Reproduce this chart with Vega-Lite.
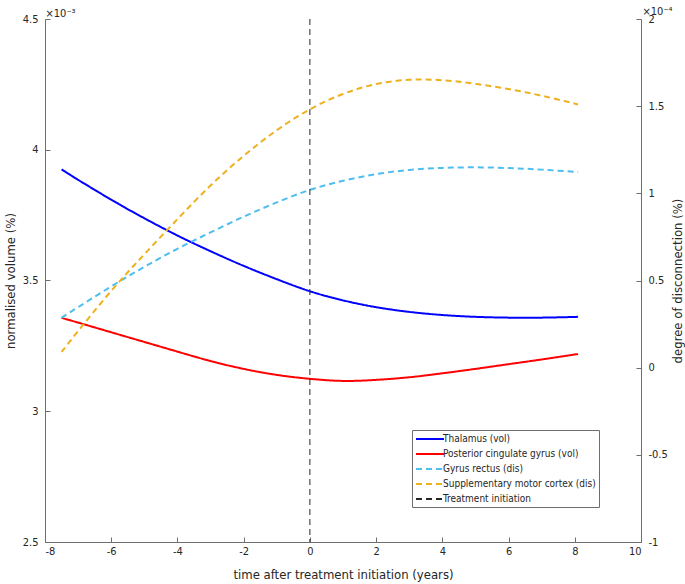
{
  "$schema": "https://vega.github.io/schema/vega-lite/v6.json",
  "width": 596,
  "height": 523,
  "autosize": {"type": "none"},
  "padding": {"left": 45, "top": 19, "right": 44, "bottom": 42},
  "background": "white",
  "config": {
    "view": {"stroke": null},
    "font": "Liberation Sans Narrow, DejaVu Sans Condensed, sans-serif",
    "axis": {
      "grid": false,
      "labelFont": "Liberation Sans Narrow, DejaVu Sans Condensed, sans-serif",
      "titleFont": "Liberation Sans Narrow, DejaVu Sans Condensed, sans-serif",
      "labelFontSize": 11,
      "titleFontSize": 13,
      "titleFontWeight": "normal",
      "labelColor": "#262626",
      "titleColor": "#262626",
      "domainColor": "#6e6e6e",
      "tickColor": "#6e6e6e",
      "domainWidth": 1,
      "tickWidth": 1,
      "tickSize": -5,
      "labelPadding": 12
    },
    "legend": {
      "orient": "none",
      "legendX": 367,
      "legendY": 411,
      "fillColor": "white",
      "strokeColor": "#6e6e6e",
      "padding": 3,
      "symbolType": "M-1,0H4.6",
      "symbolSize": 100,
      "symbolStrokeWidth": 2,
      "labelFont": "Liberation Sans Narrow, DejaVu Sans Condensed, sans-serif",
      "labelFontSize": 10,
      "labelColor": "#262626",
      "labelLimit": 400,
      "rowPadding": 4,
      "labelOffset": 16
    }
  },
  "datasets": {
    "volume": [
      {"series": "Thalamus (vol)", "t": -7.5, "vol": 0.003925},
      {"series": "Thalamus (vol)", "t": -7, "vol": 0.003885},
      {"series": "Thalamus (vol)", "t": -6, "vol": 0.003809},
      {"series": "Thalamus (vol)", "t": -5, "vol": 0.003738},
      {"series": "Thalamus (vol)", "t": -4, "vol": 0.003672},
      {"series": "Thalamus (vol)", "t": -3, "vol": 0.003612},
      {"series": "Thalamus (vol)", "t": -2, "vol": 0.003556},
      {"series": "Thalamus (vol)", "t": -1, "vol": 0.003505},
      {"series": "Thalamus (vol)", "t": 0, "vol": 0.003459},
      {"series": "Thalamus (vol)", "t": 1, "vol": 0.003424},
      {"series": "Thalamus (vol)", "t": 2, "vol": 0.003398},
      {"series": "Thalamus (vol)", "t": 3, "vol": 0.00338},
      {"series": "Thalamus (vol)", "t": 4, "vol": 0.003368},
      {"series": "Thalamus (vol)", "t": 5, "vol": 0.003361},
      {"series": "Thalamus (vol)", "t": 6, "vol": 0.003358},
      {"series": "Thalamus (vol)", "t": 7, "vol": 0.003358},
      {"series": "Thalamus (vol)", "t": 8.1, "vol": 0.003361},
      {"series": "Posterior cingulate gyrus (vol)", "t": -7.5, "vol": 0.003357},
      {"series": "Posterior cingulate gyrus (vol)", "t": -7, "vol": 0.003339},
      {"series": "Posterior cingulate gyrus (vol)", "t": -6, "vol": 0.003302},
      {"series": "Posterior cingulate gyrus (vol)", "t": -5, "vol": 0.003265},
      {"series": "Posterior cingulate gyrus (vol)", "t": -4, "vol": 0.003228},
      {"series": "Posterior cingulate gyrus (vol)", "t": -3, "vol": 0.003192},
      {"series": "Posterior cingulate gyrus (vol)", "t": -2, "vol": 0.003162},
      {"series": "Posterior cingulate gyrus (vol)", "t": -1, "vol": 0.003139},
      {"series": "Posterior cingulate gyrus (vol)", "t": 0, "vol": 0.003124},
      {"series": "Posterior cingulate gyrus (vol)", "t": 1, "vol": 0.003116},
      {"series": "Posterior cingulate gyrus (vol)", "t": 2, "vol": 0.00312},
      {"series": "Posterior cingulate gyrus (vol)", "t": 3, "vol": 0.00313},
      {"series": "Posterior cingulate gyrus (vol)", "t": 4, "vol": 0.003145},
      {"series": "Posterior cingulate gyrus (vol)", "t": 5, "vol": 0.003162},
      {"series": "Posterior cingulate gyrus (vol)", "t": 6, "vol": 0.00318},
      {"series": "Posterior cingulate gyrus (vol)", "t": 7, "vol": 0.003198},
      {"series": "Posterior cingulate gyrus (vol)", "t": 8.1, "vol": 0.003219}
    ],
    "disconnection": [
      {"series": "Gyrus rectus (dis)", "t": -7.5, "dis": 0.0000287},
      {"series": "Gyrus rectus (dis)", "t": -7, "dis": 0.0000347},
      {"series": "Gyrus rectus (dis)", "t": -6, "dis": 0.0000466},
      {"series": "Gyrus rectus (dis)", "t": -5, "dis": 0.0000578},
      {"series": "Gyrus rectus (dis)", "t": -4, "dis": 0.0000682},
      {"series": "Gyrus rectus (dis)", "t": -3, "dis": 0.0000776},
      {"series": "Gyrus rectus (dis)", "t": -2, "dis": 0.0000866},
      {"series": "Gyrus rectus (dis)", "t": -1, "dis": 0.0000948},
      {"series": "Gyrus rectus (dis)", "t": 0, "dis": 0.000102},
      {"series": "Gyrus rectus (dis)", "t": 1, "dis": 0.0001072},
      {"series": "Gyrus rectus (dis)", "t": 2, "dis": 0.000111},
      {"series": "Gyrus rectus (dis)", "t": 3, "dis": 0.0001134},
      {"series": "Gyrus rectus (dis)", "t": 4, "dis": 0.0001146},
      {"series": "Gyrus rectus (dis)", "t": 5, "dis": 0.0001149},
      {"series": "Gyrus rectus (dis)", "t": 6, "dis": 0.0001145},
      {"series": "Gyrus rectus (dis)", "t": 7, "dis": 0.0001136},
      {"series": "Gyrus rectus (dis)", "t": 8.1, "dis": 0.0001122},
      {"series": "Supplementary motor cortex (dis)", "t": -7.5, "dis": 0.000009},
      {"series": "Supplementary motor cortex (dis)", "t": -7, "dis": 0.000021},
      {"series": "Supplementary motor cortex (dis)", "t": -6, "dis": 0.000044},
      {"series": "Supplementary motor cortex (dis)", "t": -5, "dis": 0.000065},
      {"series": "Supplementary motor cortex (dis)", "t": -4, "dis": 0.0000852},
      {"series": "Supplementary motor cortex (dis)", "t": -3, "dis": 0.0001045},
      {"series": "Supplementary motor cortex (dis)", "t": -2, "dis": 0.0001215},
      {"series": "Supplementary motor cortex (dis)", "t": -1, "dis": 0.0001362},
      {"series": "Supplementary motor cortex (dis)", "t": 0, "dis": 0.0001482},
      {"series": "Supplementary motor cortex (dis)", "t": 1, "dis": 0.000157},
      {"series": "Supplementary motor cortex (dis)", "t": 2, "dis": 0.0001627},
      {"series": "Supplementary motor cortex (dis)", "t": 3, "dis": 0.0001651},
      {"series": "Supplementary motor cortex (dis)", "t": 4, "dis": 0.0001649},
      {"series": "Supplementary motor cortex (dis)", "t": 5, "dis": 0.0001628},
      {"series": "Supplementary motor cortex (dis)", "t": 6, "dis": 0.0001598},
      {"series": "Supplementary motor cortex (dis)", "t": 7, "dis": 0.000156},
      {"series": "Supplementary motor cortex (dis)", "t": 8.1, "dis": 0.000151}
    ],
    "events": [
      {"series": "Treatment initiation", "t": 0}
    ]
  },
  "layer": [
    {
      "data": {"name": "volume"},
      "mark": {"type": "line", "strokeWidth": 2, "interpolate": "natural"},
      "encoding": {
        "x": {
          "field": "t", "type": "quantitative",
          "scale": {"domain": [-8, 10], "nice": false, "zero": false},
          "axis": {
            "orient": "bottom",
            "title": "time after treatment initiation (years)",
            "values": [-8, -6, -4, -2, 0, 2, 4, 6, 8, 10],
            "labelExpr": "toString(datum.value)",
            "labelPadding": 8,
            "titlePadding": 12
          }
        },
        "y": {
          "field": "vol", "type": "quantitative",
          "scale": {"domain": [0.0025, 0.0045], "nice": false, "zero": false},
          "axis": {
            "orient": "left",
            "title": "normalised volume (%)",
            "values": [0.0025, 0.003, 0.0035, 0.004, 0.0045],
            "labelExpr": "toString(round(datum.value * 10000) / 10)",
            "titleX": -35,
            "titleBaseline": "middle"
          }
        },
        "color": {
          "field": "series", "type": "nominal",
          "scale": {
            "domain": ["Thalamus (vol)", "Posterior cingulate gyrus (vol)", "Gyrus rectus (dis)", "Supplementary motor cortex (dis)", "Treatment initiation"],
            "range": ["#0000FF", "#FF0000", "#4DBEEE", "#EDB120", "#262626"]
          },
          "legend": {"title": null}
        },
        "strokeDash": {
          "field": "series", "type": "nominal",
          "scale": {
            "domain": ["Thalamus (vol)", "Posterior cingulate gyrus (vol)", "Gyrus rectus (dis)", "Supplementary motor cortex (dis)", "Treatment initiation"],
            "range": [[1, 0], [1, 0], [6, 4], [6, 4], [6, 4]]
          },
          "legend": {"title": null}
        }
      }
    },
    {
      "data": {"name": "disconnection"},
      "mark": {"type": "line", "strokeWidth": 2, "interpolate": "natural"},
      "encoding": {
        "x": {
          "field": "t", "type": "quantitative",
          "axis": {
            "orient": "top",
            "title": "×10⁻⁴",
            "domain": false, "ticks": false, "labels": false,
            "titleX": 597, "titleY": -5,
            "titleAlign": "left", "titleBaseline": "alphabetic",
            "titleFontSize": 11, "titleAngle": 0
          }
        },
        "y": {
          "field": "dis", "type": "quantitative",
          "scale": {"domain": [-0.0001, 0.0002], "nice": false, "zero": false},
          "axis": {
            "orient": "right",
            "title": "degree of disconnection (%)",
            "values": [-0.0001, -0.00005, 0, 0.00005, 0.0001, 0.00015, 0.0002],
            "labelExpr": "toString(round(datum.value * 100000) / 10)",
            "titleAngle": 270,
            "titleX": 36,
            "titleBaseline": "middle"
          }
        },
        "color": {"field": "series", "type": "nominal", "legend": {"title": null}},
        "strokeDash": {"field": "series", "type": "nominal", "legend": {"title": null}}
      }
    },
    {
      "data": {"name": "events"},
      "mark": {"type": "rule", "strokeWidth": 1},
      "encoding": {
        "x": {
          "field": "t", "type": "quantitative",
          "axis": {
            "orient": "top",
            "title": "×10⁻³",
            "domain": false, "ticks": false, "labels": false,
            "titleX": 0, "titleY": -3,
            "titleAlign": "left", "titleBaseline": "alphabetic",
            "titleFontSize": 11, "titleAngle": 0
          }
        },
        "color": {"field": "series", "type": "nominal", "legend": {"title": null}},
        "strokeDash": {"field": "series", "type": "nominal", "legend": {"title": null}}
      }
    }
  ],
  "resolve": {
    "scale": {"y": "independent"},
    "axis": {"x": "independent", "y": "independent"}
  }
}
